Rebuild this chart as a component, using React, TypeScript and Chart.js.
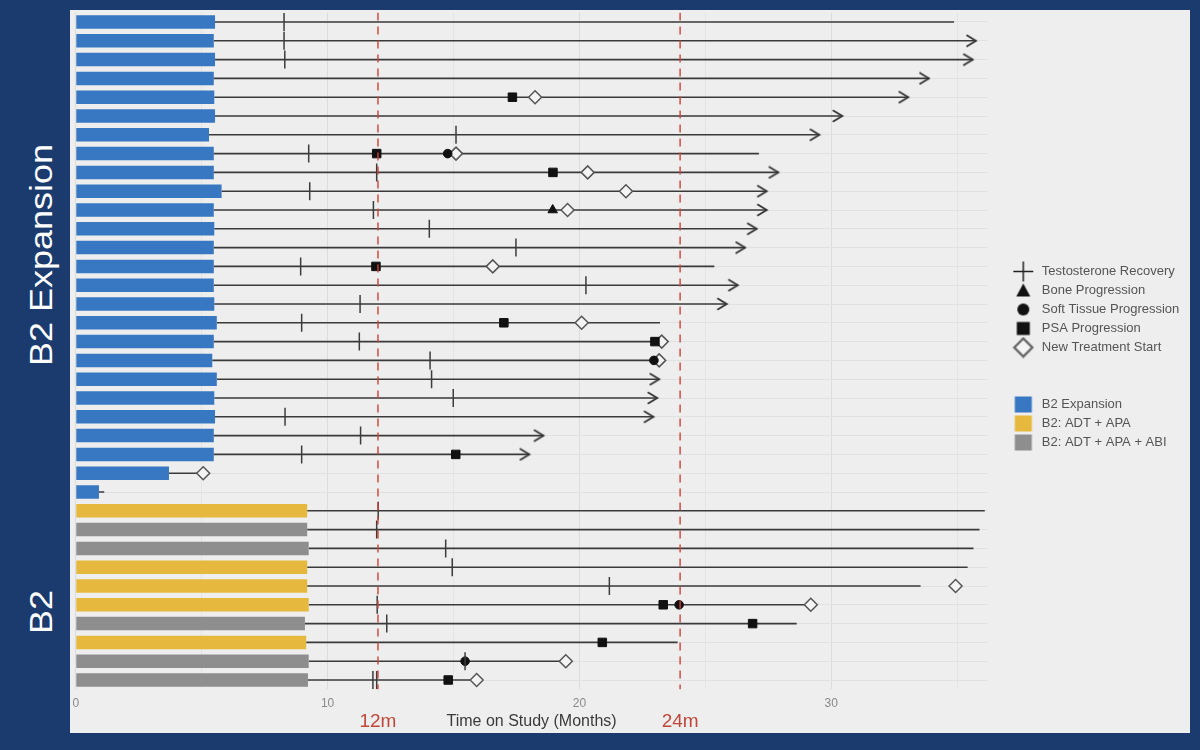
import { useEffect, useRef } from "react";
import { Chart, registerables } from "chart.js";

Chart.register(...registerables);

const FONT = '"Liberation Sans", Arial, Helvetica, sans-serif';
Chart.defaults.font.family = FONT;

// ---------- data ----------
const rowIds = [
  1, 2, 3, 4, 5, 6, 7, 8, 9, 10, 11, 12, 13, 14, 15, 16, 17, 18,
  19, 20, 21, 22, 23, 24, 25, 26, 27, 28, 29, 30, 31, 32, 33, 34, 35, 36,
];

const armOfRow = [
  "exp", "exp", "exp", "exp", "exp", "exp", "exp", "exp", "exp", "exp", "exp", "exp", "exp",
  "exp", "exp", "exp", "exp", "exp", "exp", "exp", "exp", "exp", "exp", "exp", "exp", "exp",
  "apa", "abi", "abi", "apa", "apa", "apa", "abi", "apa", "abi", "abi",
];

const barEndMonths = [
  5.53, 5.48, 5.53, 5.48, 5.5, 5.53, 5.29, 5.48, 5.48, 5.79, 5.48, 5.5, 5.48,
  5.48, 5.48, 5.5, 5.6, 5.48, 5.42, 5.6, 5.5, 5.53, 5.48, 5.48, 3.7, 0.92,
  9.19, 9.19, 9.25, 9.19, 9.19, 9.25, 9.1, 9.15, 9.25, 9.22,
];

const lineEndMonths = [
  34.88, 35.75, 35.62, 33.88, 33.06, 30.44, 29.53, 27.13, 27.9, 27.44, 27.44, 27.04, 26.58,
  25.36, 26.29, 25.85, 23.2, 23.27, 23.17, 23.17, 23.09, 22.94, 18.57, 18.01, 5.06, 1.13,
  36.1, 35.89, 35.65, 35.42, 33.55, 29.19, 28.63, 23.9, 19.46, 15.92,
];

const ongoingRows = [2, 3, 4, 5, 6, 7, 9, 10, 11, 12, 13, 15, 16, 20, 21, 22, 23, 24];

// [row, month]
const testosteroneRecovery = [
  [1, 8.27], [2, 8.27], [3, 8.3], [7, 15.1], [8, 9.25], [9, 11.95], [10, 9.29],
  [11, 11.82], [12, 14.04], [13, 17.48], [14, 8.93], [15, 20.26], [16, 11.29],
  [17, 8.97], [18, 11.26], [19, 14.07], [20, 14.13], [21, 14.99], [22, 8.31],
  [23, 11.31], [24, 8.97], [27, 12.01], [28, 11.95], [29, 14.69], [30, 14.95],
  [31, 21.19], [32, 11.97], [33, 12.35], [35, 15.46], [36, 11.8], [36, 11.95],
];
const boneProgression = [[11, 18.94]];
const softTissueProgression = [[8, 14.77], [19, 22.96], [32, 23.96], [35, 15.46]];
const psaProgression = [
  [5, 17.34], [8, 11.95], [9, 18.95], [14, 11.92], [17, 17.0], [18, 23.0],
  [24, 15.09], [32, 23.33], [33, 26.88], [34, 20.91], [36, 14.79],
];
const newTreatmentStart = [
  [5, 18.24], [8, 15.1], [9, 20.33], [10, 21.85], [11, 19.53], [14, 16.56],
  [17, 20.09], [18, 23.27], [19, 23.17], [25, 5.06], [31, 34.94], [32, 29.19],
  [35, 19.46], [36, 15.92],
];

const milestoneMonths = [12, 24];
const milestoneLabels = ["12m", "24m"];
const xTickValues = [0, 5, 10, 15, 20, 25, 30, 35];

const markerLegendLabels = [
  "Testosterone Recovery",
  "Bone Progression",
  "Soft Tissue Progression",
  "PSA Progression",
  "New Treatment Start",
];
const armKeys = ["exp", "apa", "abi"];
const armLegendLabels = ["B2 Expansion", "B2: ADT + APA", "B2: ADT + APA + ABI"];
const armColors: Record<string, string> = {
  exp: "#3877c1",
  apa: "#e6b83d",
  abi: "#8e8e8e",
};

// ---------- layout constants ----------
const CANVAS_W = 1120;
const CANVAS_H = 723;
const AREA_RIGHT = 917.3;
const LEGEND_BOX_W = 42;
const LEGEND_FONT = 13;

function makeCanvas(w: number, h: number, draw: (g: CanvasRenderingContext2D) => void) {
  const c = document.createElement("canvas");
  c.width = w;
  c.height = h;
  const g = c.getContext("2d")!;
  draw(g);
  return c;
}

export default function App() {
  const ref = useRef<HTMLCanvasElement>(null);

  useEffect(() => {
    const canvas = ref.current;
    if (!canvas) return;

    // arrow head, tip at the image centre
    const arrow = makeCanvas(22, 14, (g) => {
      g.strokeStyle = "#333";
      g.lineWidth = 1.8;
      g.lineJoin = "miter";
      g.beginPath();
      g.moveTo(1.5, 1.2);
      g.lineTo(11, 7);
      g.lineTo(1.5, 12.8);
      g.stroke();
    });

    // legend symbols (centre offset to x = 29)
    const SX = 29;
    const legCross = makeCanvas(40, 21, (g) => {
      g.strokeStyle = "#222";
      g.lineWidth = 1.5;
      g.beginPath();
      g.moveTo(SX - 10, 10.5);
      g.lineTo(SX + 10, 10.5);
      g.moveTo(SX, 0.5);
      g.lineTo(SX, 20.5);
      g.stroke();
    });
    const legTri = makeCanvas(40, 20, (g) => {
      g.fillStyle = "#111";
      g.beginPath();
      g.moveTo(SX, 3);
      g.lineTo(SX + 7, 16);
      g.lineTo(SX - 7, 16);
      g.closePath();
      g.fill();
    });
    const legCirc = makeCanvas(40, 20, (g) => {
      g.fillStyle = "#111";
      g.beginPath();
      g.arc(SX, 10, 6, 0, Math.PI * 2);
      g.fill();
    });
    const legSq = makeCanvas(40, 20, (g) => {
      g.fillStyle = "#111";
      g.fillRect(SX - 6.5, 3.5, 13, 13);
    });
    const legDia = makeCanvas(40, 22, (g) => {
      g.fillStyle = "#f4f4f4";
      g.strokeStyle = "#666";
      g.lineWidth = 2.4;
      g.beginPath();
      g.moveTo(SX - 9, 11);
      g.lineTo(SX, 2);
      g.lineTo(SX + 9, 11);
      g.lineTo(SX, 20);
      g.closePath();
      g.fill();
      g.stroke();
    });
    const blank = makeCanvas(2, 2, () => {});
    const armBox = (color: string) =>
      makeCanvas(40, 18, (g) => {
        g.fillStyle = color;
        g.fillRect(SX - 8.5, 1, 17, 16);
      });

    const markerImgs = [legCross, legTri, legCirc, legSq, legDia];
    const legendItems: any[] = [];
    markerLegendLabels.forEach((t, i) =>
      legendItems.push({ text: t, pointStyle: markerImgs[i] })
    );
    legendItems.push({ text: "", pointStyle: blank });
    legendItems.push({ text: "", pointStyle: blank });
    armLegendLabels.forEach((t, i) =>
      legendItems.push({ text: t, pointStyle: armBox(armColors[armKeys[i]]) })
    );

    // size the legend so that the plot area ends where the reference one does
    const meas = document.createElement("canvas").getContext("2d")!;
    meas.font = `${LEGEND_FONT}px ${FONT}`;
    const maxText = Math.max(
      ...[...markerLegendLabels, ...armLegendLabels].map((t) => meas.measureText(t).width)
    );
    const legendW = 6 + LEGEND_BOX_W + LEGEND_FONT / 2 + maxText + 10;
    const padRight = Math.max(0, CANVAS_W - AREA_RIGHT - legendW);

    const pts = (arr: number[][]) => arr.map(([r, m]) => ({ x: m, y: r }));

    const rowLines = rowIds.map((r, i) => ({
      type: "line" as const,
      data: [
        { x: barEndMonths[i], y: r },
        { x: lineEndMonths[i], y: r },
      ],
      borderColor: "#3a3a3a",
      borderWidth: 1.6,
      pointRadius: 0,
      order: 3,
    }));

    const milestoneLines = milestoneMonths.map((m) => ({
      type: "line" as const,
      data: [
        { x: m, y: 0.5 },
        { x: m, y: 36.5 },
      ],
      borderColor: "rgba(204,70,58,0.95)",
      borderWidth: 1.5,
      borderDash: [8, 6],
      pointRadius: 0,
      order: -1,
    }));

    const milestonePlugin = {
      id: "milestoneLabels",
      afterDraw(chart: any) {
        const xs = chart.scales.x;
        const ctx = chart.ctx;
        ctx.save();
        ctx.font = `19px ${FONT}`;
        ctx.fillStyle = "#c0483a";
        ctx.textAlign = "center";
        ctx.textBaseline = "middle";
        milestoneMonths.forEach((m, i) => {
          ctx.fillText(milestoneLabels[i], xs.getPixelForValue(m), 712);
        });
        ctx.restore();
      },
    };

    const chart = new Chart(canvas, {
      type: "scatter",
      data: {
        datasets: [
          ...milestoneLines,
          {
            type: "scatter",
            data: pts(testosteroneRecovery),
            pointStyle: "line",
            pointRotation: 90,
            pointRadius: 9,
            pointBorderColor: "#3c3c3c",
            pointBorderWidth: 1.5,
            order: 0,
          },
          {
            type: "scatter",
            data: pts(boneProgression),
            pointStyle: "triangle",
            pointRadius: 5.5,
            pointBackgroundColor: "#111",
            pointBorderColor: "#111",
            pointBorderWidth: 1,
            order: 0,
          },
          {
            type: "scatter",
            data: pts(softTissueProgression),
            pointStyle: "circle",
            pointRadius: 4.3,
            pointBackgroundColor: "#111",
            pointBorderColor: "#111",
            pointBorderWidth: 1,
            order: 0,
          },
          {
            type: "scatter",
            data: pts(psaProgression),
            pointStyle: "rect",
            pointRadius: 6,
            pointBackgroundColor: "#111",
            pointBorderColor: "#111",
            pointBorderWidth: 1,
            order: 0,
          },
          {
            type: "scatter",
            data: pts(newTreatmentStart),
            pointStyle: "rectRot",
            pointRadius: 6.5,
            pointBackgroundColor: "#f4f4f4",
            pointBorderColor: "#555",
            pointBorderWidth: 1.5,
            order: 0,
          },
          {
            type: "scatter",
            data: ongoingRows.map((r) => ({ x: lineEndMonths[r - 1], y: r })),
            pointStyle: arrow as any,
            pointRadius: 6,
            order: 1,
          },
          {
            type: "bar",
            indexAxis: "y",
            data: rowIds.map((r, i) => ({ x: barEndMonths[i], y: r })),
            backgroundColor: rowIds.map((_, i) => armColors[armOfRow[i]]),
            borderWidth: 0,
            barPercentage: 0.9,
            categoryPercentage: 0.8,
            order: 2,
          } as any,
          ...rowLines,
        ] as any,
      },
      options: {
        responsive: false,
        animation: false,
        events: [],
        layout: {
          autoPadding: false,
          padding: { left: 5.8, top: 2.6, right: padRight, bottom: 0 },
        },
        scales: {
          x: {
            type: "linear",
            min: 0,
            max: 36.2,
            position: "bottom",
            afterBuildTicks: (s: any) => {
              s.ticks = xTickValues.map((v) => ({ value: v }));
            },
            afterFit: (s: any) => {
              s.height = 43.6;
              s.paddingLeft = 0;
              s.paddingRight = 0;
            },
            ticks: {
              autoSkip: false,
              maxRotation: 0,
              padding: 7,
              color: "#8a8a8a",
              font: { size: 12 },
              callback: (v: any) => (Number(v) % 10 === 0 ? String(v) : ""),
            },
            grid: {
              drawTicks: false,
              color: (c: any) =>
                c.tick && c.tick.value % 10 === 0 ? "#dcdcdc" : "#e4e4e4",
            },
            border: { display: false },
            title: {
              display: true,
              text: "Time on Study (Months)",
              color: "#3a3a3a",
              font: { size: 16 },
              padding: { top: 0, bottom: 2 },
            },
          },
          y: {
            type: "linear",
            min: 0.5,
            max: 36.5,
            reverse: true,
            offset: false,
            afterBuildTicks: (s: any) => {
              s.ticks = rowIds.map((v) => ({ value: v }));
            },
            afterFit: (s: any) => {
              s.width = 0;
            },
            ticks: { display: false },
            grid: { drawTicks: false, color: "#e1e1e1", offset: false },
            border: { display: false },
          },
        },
        plugins: {
          tooltip: { enabled: false },
          legend: {
            display: true,
            position: "right",
            align: "center",
            fullSize: false,
            onClick: () => {},
            title: {
              display: true,
              text: "",
              padding: 0,
              font: { size: 12, lineHeight: 1 },
            },
            labels: {
              usePointStyle: true,
              pointStyleWidth: LEGEND_BOX_W,
              padding: 6,
              color: "#555",
              font: { size: LEGEND_FONT },
              generateLabels: () =>
                legendItems.map((it, i) => ({
                  text: it.text,
                  pointStyle: it.pointStyle,
                  fillStyle: "rgba(0,0,0,0)",
                  strokeStyle: "rgba(0,0,0,0)",
                  lineWidth: 0,
                  hidden: false,
                  fontColor: "#555",
                  datasetIndex: i,
                })),
            },
          },
        },
      } as any,
      plugins: [milestonePlugin],
    });

    return () => chart.destroy();
  }, []);

  const sideLabel = (text: string, cy: number) => (
    <div
      style={{
        position: "absolute",
        left: 42 - 160,
        top: cy - 20,
        width: 320,
        height: 40,
        lineHeight: "40px",
        textAlign: "center",
        color: "#ffffff",
        fontFamily: FONT,
        fontSize: 31,
        whiteSpace: "nowrap",
        transform: "rotate(-90deg) scaleX(1.16)",
        transformOrigin: "50% 50%",
      }}
    >
      {text}
    </div>
  );

  return (
    <div
      style={{
        position: "fixed",
        left: 0,
        top: 0,
        width: 1200,
        height: 750,
        background: "#1b3b6e",
        overflow: "hidden",
      }}
    >
      <div
        style={{
          position: "absolute",
          left: 70,
          top: 10,
          width: CANVAS_W,
          height: CANVAS_H,
          background: "#eeeeee",
        }}
      >
        <canvas
          ref={ref}
          width={CANVAS_W}
          height={CANVAS_H}
          style={{ display: "block", width: CANVAS_W, height: CANVAS_H }}
        />
      </div>
      {sideLabel("B2 Expansion", 255)}
      {sideLabel("B2", 612)}
    </div>
  );
}
